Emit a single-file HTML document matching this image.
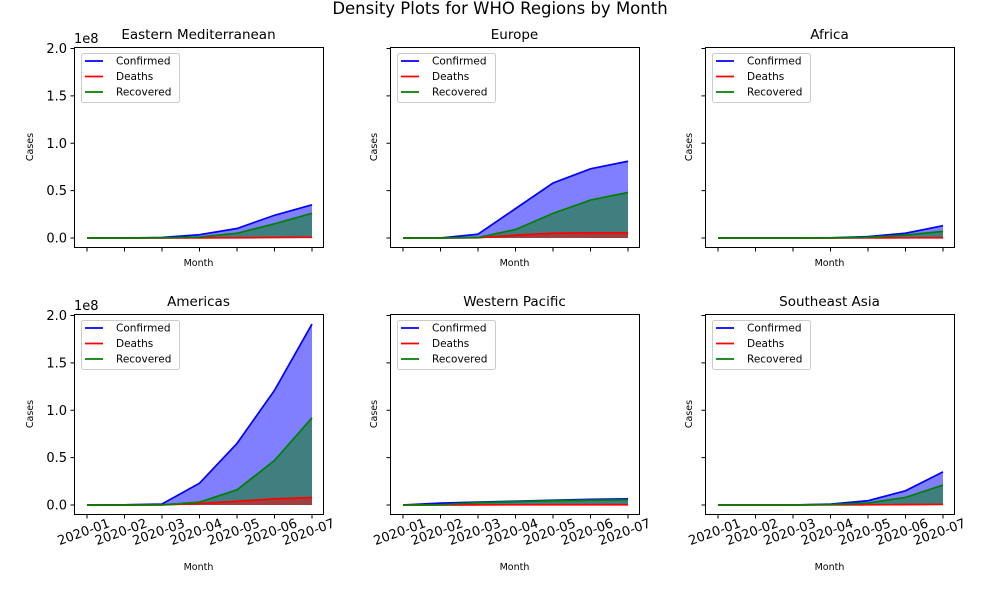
<!DOCTYPE html>
<html><head><meta charset="utf-8"><style>
body{margin:0;background:#fff;}
svg{display:block;font-family:"DejaVu Sans","Liberation Sans",sans-serif;}
</style></head><body>
<svg id="fig" width="1000" height="600" xmlns="http://www.w3.org/2000/svg">
<rect width="1000" height="600" fill="#fff"/>
<text x="500" y="14" font-size="16.5" text-anchor="middle">Density Plots for WHO Regions by Month</text>
</svg>
<script>
const months = ["2020-01","2020-02","2020-03","2020-04","2020-05","2020-06","2020-07"];
const regions = ["Eastern Mediterranean","Europe","Africa","Americas","Western Pacific","Southeast Asia"];
const yTicks = [0,0.5,1.0,1.5,2.0];
// values in units of 1e8
const confirmed = [
 [0,0,0.005,0.035,0.10,0.24,0.35],
 [0,0,0.04,0.31,0.58,0.73,0.81],
 [0,0,0,0.002,0.015,0.05,0.13],
 [0,0.002,0.01,0.23,0.65,1.21,1.91],
 [0,0.02,0.03,0.04,0.05,0.06,0.065],
 [0,0,0,0.01,0.045,0.15,0.35]
];
const deaths = [
 [0,0,0,0.001,0.003,0.005,0.008],
 [0,0,0.002,0.03,0.05,0.055,0.055],
 [0,0,0,0,0.001,0.002,0.003],
 [0,0,0.001,0.015,0.04,0.065,0.08],
 [0,0,0.001,0.002,0.003,0.003,0.003],
 [0,0,0,0.001,0.002,0.004,0.006]
];
const recovered = [
 [0,0,0.002,0.01,0.05,0.15,0.26],
 [0,0,0.005,0.09,0.26,0.40,0.48],
 [0,0,0,0.001,0.008,0.03,0.07],
 [0,0,0.001,0.03,0.16,0.47,0.92],
 [0,0.003,0.025,0.035,0.045,0.05,0.055],
 [0,0,0,0.005,0.02,0.08,0.21]
];
const NS="http://www.w3.org/2000/svg";
const svg=document.getElementById('fig');
function mk(tag,attrs,parent){const e=document.createElementNS(NS,tag);for(const k in attrs)e.setAttribute(k,attrs[k]);(parent||svg).appendChild(e);return e;}
const colL=[74,390,705], rowT=[47,314];
const W=249,H=200;
regions.forEach((name,i)=>{
  const r=Math.floor(i/3), c=i%3;
  const L=colL[c], T=rowT[r];
  const zeroY=T+191, topY=T+1.5;
  const x0=L+13, x1=L+238;
  const xs=j=>x0+(x1-x0)*j/(months.length-1);
  const ys=v=>zeroY-(zeroY-topY)*v/2.0;
  const g=mk('g',{});
  
  
  const t=mk('text',{x:L+W/2,y:T-8,'font-size':13.5,'text-anchor':'middle'},g);t.textContent=name;
  
  function area(arr,col,nm){
    let d='M'+xs(0)+','+ys(0);
    arr.forEach((v,j)=>d+=' L'+xs(j)+','+ys(v));
    d+=' L'+xs(arr.length-1)+','+ys(0)+' Z';
    const p=mk('path',{d:d,fill:col,'fill-opacity':0.5},g);
    
  }
  function line(arr,col,nm){
    const pts=arr.map((v,j)=>xs(j)+','+ys(v)).join(' ');
    const p=mk('polyline',{points:pts,fill:'none',stroke:col,'stroke-width':1.7},g);
    
  }
  area(confirmed[i],'#0000ff','confirmed');
  area(recovered[i],'#008000','recovered');
  area(deaths[i],'#ff0000','deaths');
  line(confirmed[i],'#0000ff','confirmed');
  line(deaths[i],'#ff0000','deaths');
  line(recovered[i],'#008000','recovered');
  const fr=mk('rect',{x:L+0.5,y:T+0.5,width:W,height:H,fill:'none',stroke:'#000','stroke-width':1},g);
  
  yTicks.forEach(v=>{
    mk('line',{x1:L+0.5,x2:L-3.5,y1:ys(v),y2:ys(v),stroke:'#000'},g);
    if(c===0){const tt=mk('text',{x:L-7,y:ys(v)+4.5,'font-size':13,'text-anchor':'end'},g);tt.textContent=v.toFixed(1);
      }
  });
  if(c===0){const e=mk('text',{x:L,y:T-4,'font-size':13},g);e.textContent='1e8';
    }
  const yl=mk('text',{x:0,y:0,'font-size':9.5,'text-anchor':'middle',transform:`translate(${c===0?L-41:L-13},${T+H/2})`+' rotate(-90)'},g);
  yl.textContent='Cases';
  months.forEach((m,j)=>{
    mk('line',{x1:xs(j),x2:xs(j),y1:T+H+0.5,y2:T+H+4.5,stroke:'#000'},g);
    if(r===1){const tt=mk('text',{x:0,y:0,'font-size':13,'text-anchor':'middle',transform:`translate(${xs(j)-2},${T+H+22}) rotate(-20)`},g);tt.textContent=m;
      }
  });
  const xl=mk('text',{x:L+W/2,y:r===0?T+H+19:T+H+56,'font-size':9.5,'text-anchor':'middle'},g);xl.textContent='Month';
  
  const lg=mk('g',{},g);
  mk('rect',{x:L+7.5,y:T+6.5,width:98,height:49,rx:2,fill:'#fff','fill-opacity':0.8,stroke:'#ccc'},lg);
  [['Confirmed','#0000ff'],['Deaths','#ff0000'],['Recovered','#008000']].forEach((e,k)=>{
    const yy=T+14+k*15.5;
    mk('line',{x1:L+11,x2:L+29,y1:yy,y2:yy,stroke:e[1],'stroke-width':1.7},lg);
    const tt=mk('text',{x:L+42,y:yy+3.5,'font-size':10.5},lg);tt.textContent=e[0];
    
  });
});
</script>
</body></html>
